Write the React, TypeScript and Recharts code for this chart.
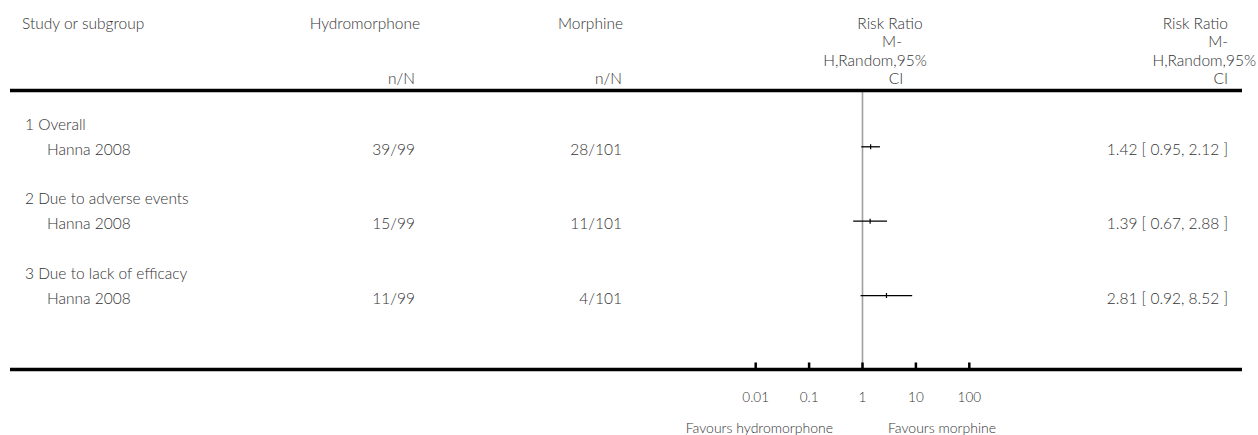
import React from 'react';
import { ScatterChart, Scatter, XAxis, YAxis, ErrorBar, ReferenceLine } from 'recharts';

// ---------- data ----------
const subgroupLabels = ['1 Overall', '2 Due to adverse events', '3 Due to lack of efficacy'];
const studyNames = ['Hanna 2008', 'Hanna 2008', 'Hanna 2008'];
const hydroEvents = [39, 15, 11];
const hydroTotals = [99, 99, 99];
const morphEvents = [28, 11, 4];
const morphTotals = [101, 101, 101];
const riskRatios = [1.42, 1.39, 2.81];
const ciLower = [0.95, 0.67, 0.92];
const ciUpper = [2.12, 2.88, 8.52];
const axisTicks = [0.01, 0.1, 1, 10, 100];
const axisTickLabels = ['0.01', '0.1', '1', '10', '100'];
const headerStudy = 'Study or subgroup';
const headerGroup1 = 'Hydromorphone';
const headerGroup2 = 'Morphine';
const headerNN = 'n/N';
const headerEffect = ['Risk Ratio', 'M-', 'H,Random,95%', 'CI'];
const favoursLeft = 'Favours hydromorphone';
const favoursRight = 'Favours morphine';

// ---------- layout ----------
const W = 1258;
const H = 435;
const PLOT_TOP = 92;
const AXIS_Y = 369.5;
const X_AXIS_H = 60;
const ROW0 = 122;
const ROW_PITCH = 24.8;
const ROW_TOP = (PLOT_TOP - ROW0) / ROW_PITCH;
const ROW_BOTTOM = (AXIS_Y - ROW0) / ROW_PITCH;
const rowY = (k: number) => ROW0 + ROW_PITCH * k;
const TEXT_DY = 2;

const FONT = 'Lato, "Open Sans", sans-serif';
const TEXT = '#333';
const FS = 15.5;

const fmt = (v: number) => v.toFixed(2);

const forestData = riskRatios.map((rr, i) => ({
  rr,
  row: 3 * i + 1,
  err: [rr - ciLower[i], ciUpper[i] - rr],
}));

const EstimateMark = (props: any) => {
  const { cx, cy } = props;
  if (cx == null || cy == null) return null;
  return <line x1={cx} x2={cx} y1={cy - 2.5} y2={cy + 2.5} stroke="#000" strokeWidth={1.2} />;
};

const AxisTick = (props: any) => {
  const { x, y, index } = props;
  return (
    <g>
      <line x1={x} x2={x} y1={y - 7} y2={y} stroke="#000" strokeWidth={2.5} />
      <text
        x={x}
        y={y + 27.5}
        textAnchor="middle"
        dominantBaseline="central"
        fontFamily={FONT}
        fontWeight={300}
        fontSize={13.5}
        fill={TEXT}
      >
        {axisTickLabels[index]}
      </text>
    </g>
  );
};

const T = (p: any) => (
  <text
    fontFamily={FONT}
    fontWeight={300}
    fontSize={FS}
    fill={TEXT}
    dominantBaseline="central"
    {...p}
  />
);

export default function App() {
  const hdrY = [22.5, 41, 59.5, 77.5];
  return (
    <div style={{ position: 'absolute', left: 0, top: 0, width: W, height: H, background: '#fff' }}>
      <ScatterChart
        width={W}
        height={H}
        margin={{ top: PLOT_TOP, left: 755.7, right: W - 969.3, bottom: H - AXIS_Y - X_AXIS_H }}
      >
        <XAxis
          type="number"
          dataKey="rr"
          scale="log"
          domain={[0.01, 100]}
          ticks={axisTicks}
          interval={0}
          allowDataOverflow
          axisLine={false}
          tickLine={false}
          tickSize={0}
          tickMargin={0}
          height={X_AXIS_H}
          tick={<AxisTick />}
        />
        <YAxis
          type="number"
          dataKey="row"
          hide
          reversed
          allowDataOverflow
          domain={[ROW_TOP, ROW_BOTTOM]}
        />
        <ReferenceLine x={1} stroke="#a0a0a0" strokeWidth={1.6} />
        <Scatter data={forestData} isAnimationActive={false} shape={<EstimateMark />}>
          <ErrorBar dataKey="err" direction="x" width={0} stroke="#000" strokeWidth={1.3} isAnimationActive={false} />
        </Scatter>
      </ScatterChart>
      <svg
        width={W}
        height={H}
        style={{ position: 'absolute', left: 0, top: 0, pointerEvents: 'none' }}
      >
        {/* header */}
        <T x={22} y={hdrY[0]}>{headerStudy}</T>
        <T x={420} y={hdrY[0]} textAnchor="end">{headerGroup1}</T>
        <T x={415} y={hdrY[3]} textAnchor="end">{headerNN}</T>
        <T x={623} y={hdrY[0]} textAnchor="end">{headerGroup2}</T>
        <T x={622} y={hdrY[3]} textAnchor="end">{headerNN}</T>
        {headerEffect.map((s, i) => (
          <T key={'m' + i} x={[890, 892, 875, 896][i]} y={hdrY[i]} textAnchor="middle">{s}</T>
        ))}
        {headerEffect.map((s, i) => (
          <T key={'r' + i} x={i === 2 ? 1256 : 1228} y={hdrY[i]} textAnchor="end">{s}</T>
        ))}
        <line x1={10} x2={1242} y1={90.5} y2={90.5} stroke="#000" strokeWidth={3.6} />

        {/* rows */}
        {subgroupLabels.map((s, i) => (
          <g key={'g' + i}>
            <T x={25} y={rowY(3 * i) + TEXT_DY}>{s}</T>
            <T x={47} y={rowY(3 * i + 1) + TEXT_DY}>{studyNames[i]}</T>
            <T x={415} y={rowY(3 * i + 1) + TEXT_DY} textAnchor="end">{`${hydroEvents[i]}/${hydroTotals[i]}`}</T>
            <T x={622} y={rowY(3 * i + 1) + TEXT_DY} textAnchor="end">{`${morphEvents[i]}/${morphTotals[i]}`}</T>
            <T x={1228} y={rowY(3 * i + 1) + TEXT_DY} textAnchor="end">
              {`${fmt(riskRatios[i])} [ ${fmt(ciLower[i])}, ${fmt(ciUpper[i])} ]`}
            </T>
          </g>
        ))}

        {/* bottom axis line */}
        <line x1={10} x2={1242} y1={AXIS_Y} y2={AXIS_Y} stroke="#000" strokeWidth={3.6} />
        <T x={833} y={427} textAnchor="end" fontSize={14}>{favoursLeft}</T>
        <T x={888} y={427} textAnchor="start" fontSize={14}>{favoursRight}</T>
      </svg>
    </div>
  );
}
